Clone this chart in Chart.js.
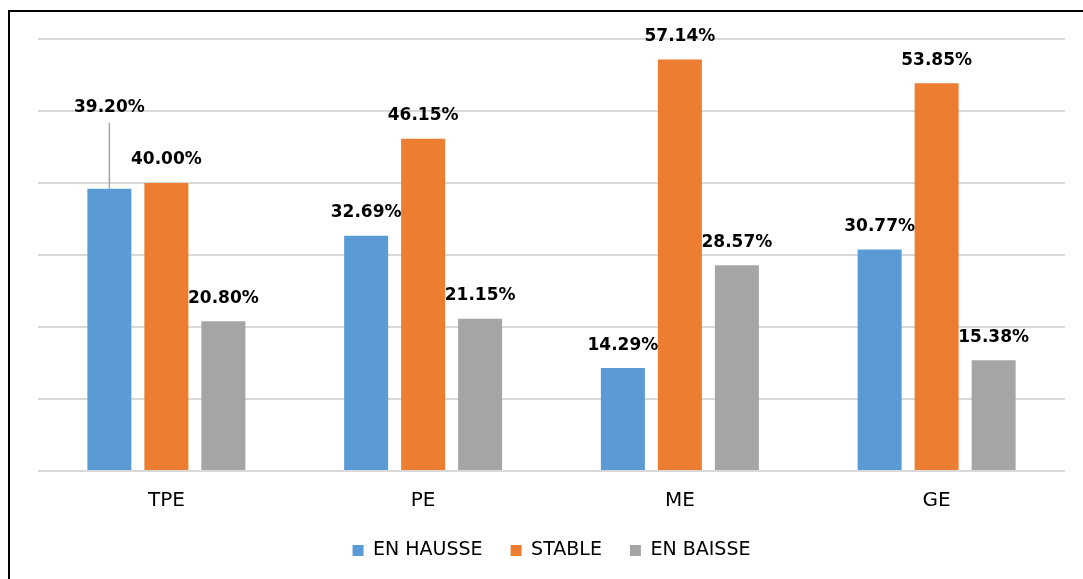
<!DOCTYPE html>
<html>
<head>
<meta charset="utf-8">
<script src="https://cdn.jsdelivr.net/npm/chart.js@4"></script>
<style>
  html, body { margin: 0; padding: 0; background: #fff; }
  #wrap { position: relative; width: 1083px; height: 579px; }
  #frame { position: absolute; left: 8px; top: 10px; right: 0; bottom: 0;
           border-top: 2px solid #000; border-left: 2px solid #000; pointer-events: none; }
</style>
</head>
<body>
<div id="wrap">
  <canvas id="chart" width="1083" height="579"></canvas>
  <div id="frame"></div>
</div>
<script>
// données
var categories = ['TPE', 'PE', 'ME', 'GE'];
var enHausse = [39.20, 32.69, 14.29, 30.77];
var stable = [40.00, 46.15, 57.14, 53.85];
var enBaisse = [20.80, 21.15, 28.57, 15.38];
var seriesNames = ['EN HAUSSE', 'STABLE', 'EN BAISSE'];
var yTicks = [0, 10, 20, 30, 40, 50, 60];

var colors = ['#5B9BD5', '#ED7D31', '#A5A5A5'];
var font = 'DejaVu Sans';

// étiquettes de valeurs au-dessus des barres
var valueLabels = {
    id: 'valueLabels',
    afterDatasetsDraw: function(chart) {
        var ctx = chart.ctx;
        ctx.save();
        ctx.font = 'bold 17px "' + font + '"';
        ctx.fillStyle = '#000';
        ctx.textAlign = 'center';
        ctx.textBaseline = 'middle';
        chart.data.datasets.forEach(function(ds, i) {
            var meta = chart.getDatasetMeta(i);
            meta.data.forEach(function(bar, j) {
                var y = bar.y - 23;
                // étiquette TPE / EN HAUSSE décalée avec trait de rappel
                if (i === 0 && j === 0) {
                    y = bar.y - 81;
                    ctx.strokeStyle = '#A5A5A5';
                    ctx.lineWidth = 1.5;
                    ctx.beginPath();
                    ctx.moveTo(bar.x, y + 15);
                    ctx.lineTo(bar.x, bar.y);
                    ctx.stroke();
                }
                ctx.fillText(ds.data[j].toFixed(2) + '%', bar.x, y);
            });
        });
        ctx.restore();
    }
};

var ctx = document.getElementById('chart').getContext('2d');
var chart = new Chart(ctx, {
    type: 'bar',
    data: {
        labels: categories,
        datasets: [
            { label: seriesNames[0], data: enHausse, backgroundColor: colors[0] },
            { label: seriesNames[1], data: stable, backgroundColor: colors[1] },
            { label: seriesNames[2], data: enBaisse, backgroundColor: colors[2] }
        ]
    },
    options: {
        responsive: false,
        animation: false,
        categoryPercentage: 0.666,
        barPercentage: 0.772,
        layout: { padding: { left: 38, right: 18, top: 39, bottom: 9 } },
        plugins: {
            legend: {
                position: 'bottom',
                labels: {
                    font: { family: font, size: 19 },
                    color: '#000',
                    boxWidth: 11,
                    boxHeight: 11,
                    padding: 28
                }
            },
            tooltip: { enabled: false }
        },
        scales: {
            x: {
                grid: { display: false },
                border: { display: false },
                ticks: { font: { family: font, size: 20 }, color: '#000', padding: 10 },
                afterFit: function(axis) { axis.height -= 10; }
            },
            y: {
                min: 0,
                max: 60,
                afterBuildTicks: function(axis) {
                    axis.ticks = yTicks.map(function(v) { return { value: v }; });
                },
                ticks: { display: false },
                border: { display: false },
                grid: { color: '#D9D9D9', lineWidth: 2, drawTicks: false }
            }
        }
    },
    plugins: [valueLabels]
});
</script>
</body>
</html>
